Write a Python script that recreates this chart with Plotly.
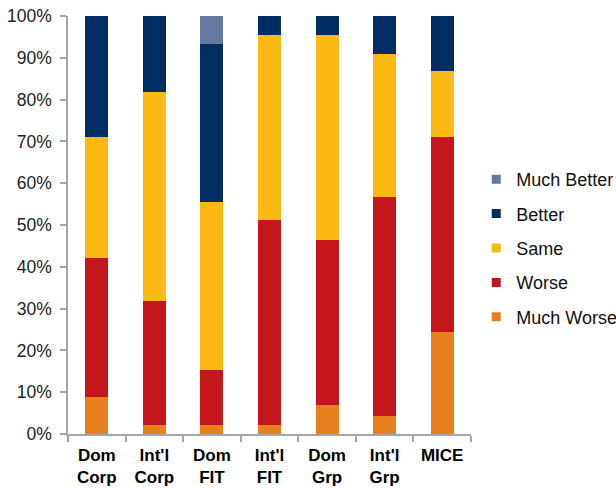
import plotly.graph_objects as go

# Segments (percent of respondents) per market segment
categories = ["Dom<br>Corp", "Int'l<br>Corp", "Dom<br>FIT", "Int'l<br>FIT", "Dom<br>Grp", "Int'l<br>Grp", "MICE"]
much_worse = [8.8, 2.2, 2.2, 2.2, 6.9, 4.4, 24.4]
worse = [33.3, 29.6, 13.2, 49.0, 39.5, 52.3, 46.7]
same = [29.0, 50.0, 40.1, 44.2, 49.0, 34.1, 15.7]
better = [28.9, 18.2, 37.8, 4.6, 4.6, 9.2, 13.2]
much_better = [0.0, 0.0, 6.7, 0.0, 0.0, 0.0, 0.0]

series = [
    ("Much Worse", much_worse, "#E8801F"),
    ("Worse", worse, "#C4161C"),
    ("Same", same, "#FDB913"),
    ("Better", better, "#002D62"),
    ("Much Better", much_better, "#6478A0"),
]

labels = [f"<b>{c}</b>" for c in categories]

fig = go.Figure()
for name, vals, color in series:
    fig.add_trace(go.Bar(
        x=labels, y=vals, name=name,
        marker=dict(color=color, line=dict(width=0)),
        showlegend=False,
    ))

# square legend swatches, top entry = top of the stack
for name, vals, color in reversed(series):
    fig.add_trace(go.Scatter(
        x=[None], y=[None], mode="markers", name=name,
        marker=dict(symbol="square", size=9, color=color),
        legendgroup=name,
    ))

font = "Liberation Sans, Arial, sans-serif"
fig.update_layout(
    width=616, height=488,
    barmode="stack", bargap=0.6,
    margin=dict(l=67.5, r=144.5, t=16, b=54, autoexpand=False),
    paper_bgcolor="white", plot_bgcolor="white",
    font=dict(family=font, size=17, color="#000"),
    showlegend=True,
    legend=dict(
        traceorder="grouped", tracegroupgap=8,
        x=1.013, xanchor="left", y=0.445, yanchor="middle",
        font=dict(size=18, color="#111"),
        bgcolor="rgba(0,0,0,0)", itemwidth=30,
    ),
    xaxis=dict(
        type="category", showline=True, linecolor="#a6a6a6", linewidth=1.5,
        ticks="outside", tickson="boundaries", ticklen=6, tickcolor="#a6a6a6",
        tickwidth=1.5, showgrid=False, tickfont=dict(size=17, color="#000"),
        ticklabelstandoff=5, fixedrange=True,
    ),
    yaxis=dict(
        range=[0, 100], dtick=10, ticksuffix="%", showline=True,
        linecolor="#a6a6a6", linewidth=1.5, ticks="outside", ticklen=6,
        tickcolor="#a6a6a6", tickwidth=1.5, showgrid=False, zeroline=False,
        tickfont=dict(size=17.5, color="#222"), ticklabelstandoff=5,
    ),
)

fig.write_html("out.html")
